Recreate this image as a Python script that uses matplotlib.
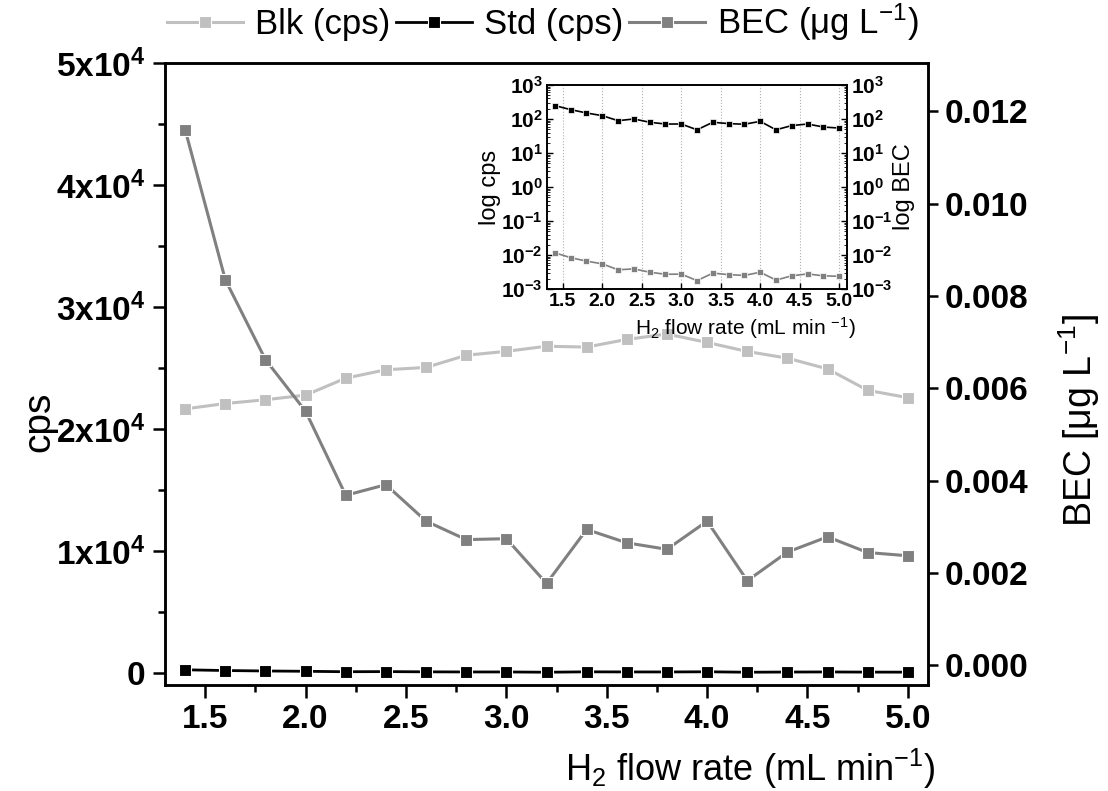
import numpy as np
import matplotlib
matplotlib.use("Agg")
import matplotlib.pyplot as plt
from matplotlib.ticker import FixedLocator, FixedFormatter, MultipleLocator, LogLocator, NullFormatter

plt.rcParams['font.family'] = 'Liberation Sans'
plt.rcParams['mathtext.fontset'] = 'custom'
plt.rcParams['mathtext.rm'] = 'Liberation Sans'
plt.rcParams['mathtext.bf'] = 'Liberation Sans:bold'
plt.rcParams['mathtext.it'] = 'Liberation Sans:italic'
plt.rcParams['mathtext.default'] = 'regular'

# data
flow = [1.4, 1.6, 1.8, 2.0, 2.2, 2.4, 2.6, 2.8, 3.0, 3.2,
        3.4, 3.6, 3.8, 4.0, 4.2, 4.4, 4.6, 4.8, 5.0]
blk = [21650, 22090, 22400, 22780, 24170, 24860, 25050, 26050, 26370, 26790,
       26720, 27350, 27790, 27100, 26360, 25810, 24930, 23170, 22570]
std = [247, 188, 150, 125, 89, 100, 80, 71, 71, 48,
       80, 73, 70, 85, 48, 64, 71, 58, 54]
bec = [0.01160, 0.00835, 0.00662, 0.00550, 0.00368, 0.00391, 0.00312, 0.00272, 0.00274, 0.00177,
       0.00294, 0.00265, 0.00251, 0.00312, 0.00183, 0.00245, 0.00278, 0.00244, 0.00237]

cps_ticks = [0, 10000, 20000, 30000, 40000, 50000]
cps_labels = ['0', r'$\mathbf{1x10^{4}}$', r'$\mathbf{2x10^{4}}$', r'$\mathbf{3x10^{4}}$',
              r'$\mathbf{4x10^{4}}$', r'$\mathbf{5x10^{4}}$']
bec_ticks = [0.0, 0.002, 0.004, 0.006, 0.008, 0.010, 0.012]
bec_labels = ['0.000', '0.002', '0.004', '0.006', '0.008', '0.010', '0.012']
x_ticks = [1.5, 2.0, 2.5, 3.0, 3.5, 4.0, 4.5, 5.0]
log_ticks = [1e-3, 1e-2, 1e-1, 1e0, 1e1, 1e2, 1e3]
log_labels = [r'$\mathbf{10^{-3}}$', r'$\mathbf{10^{-2}}$', r'$\mathbf{10^{-1}}$', r'$\mathbf{10^{0}}$',
              r'$\mathbf{10^{1}}$', r'$\mathbf{10^{2}}$', r'$\mathbf{10^{3}}$']

c_blk = '#c0c0c0'
c_std = '#000000'
c_bec = '#808080'

fig = plt.figure(figsize=(11.08, 7.91), dpi=100)
ax = fig.add_axes([0.149, 0.134, 0.6885, 0.786])
ax2 = ax.twinx()

l1, = ax.plot(flow, blk, '-s', color=c_blk, lw=2.2, ms=9, mec='white', mew=0.8, label='Blk (cps)')
l2, = ax.plot(flow, std, '-s', color=c_std, lw=2.0, ms=9, mec='white', mew=0.8, label='Std (cps)')
l3, = ax2.plot(flow, bec, '-s', color=c_bec, lw=2.2, ms=9, mec='white', mew=0.8, label=r'BEC ($\mu$g L$^{-1}$)')

ax.set_xlim(1.3, 5.1)
ax.set_ylim(-1000, 50000)
ax2.set_ylim(-0.00043, 0.01304)

ax.xaxis.set_major_locator(FixedLocator(x_ticks))
ax.xaxis.set_minor_locator(MultipleLocator(0.25))
ax.yaxis.set_major_locator(FixedLocator(cps_ticks))
ax.yaxis.set_major_formatter(FixedFormatter(cps_labels))
ax.yaxis.set_minor_locator(MultipleLocator(5000))
ax2.yaxis.set_major_locator(FixedLocator(bec_ticks))
ax2.yaxis.set_major_formatter(FixedFormatter(bec_labels))

for a in (ax, ax2):
    for s in a.spines.values():
        s.set_linewidth(1.8)
ax.tick_params(which='major', direction='out', length=9, width=1.8, labelsize=24, pad=5)
ax.tick_params(which='minor', direction='out', length=5, width=1.8)
ax2.tick_params(which='major', direction='out', length=7, width=1.8, labelsize=24, pad=5)
for lab in ax.get_xticklabels() + ax.get_yticklabels() + ax2.get_yticklabels():
    lab.set_fontweight('bold')

ax.set_ylabel('cps', fontsize=28)
ax.yaxis.set_label_coords(-0.141, 0.424)
ax2.set_ylabel(r'BEC [$\mu$g L$^{-1}$]', fontsize=27)
ax2.yaxis.set_label_coords(1.168, 0.426)
ax.set_xlabel(r'H$_2$ flow rate (mL min$^{-1}$)', fontsize=26)
ax.xaxis.set_label_coords(0.767, -0.1)

fig.legend([l1, l2, l3], [l1.get_label(), l2.get_label(), l3.get_label()],
           loc='center', bbox_to_anchor=(0.49, 0.972), ncol=3, frameon=False,
           fontsize=25, handlelength=2.2, handletextpad=0.35, columnspacing=0.15)

# inset with log scales
axin = fig.add_axes([0.4937, 0.6346, 0.2708, 0.258])
axin.set_yscale('log')
axin.plot(flow, std, '-s', color=c_std, lw=1.2, ms=5, mec='white', mew=0.5)
axin.set_xlim(1.3, 5.1)
axin.set_ylim(1e-3, 1e3)
axin2 = axin.twinx()
axin2.set_yscale('log')
axin2.plot(flow, bec, '-s', color=c_bec, lw=1.2, ms=5, mec='white', mew=0.5)
axin2.set_ylim(1e-3, 1e3)

axin.xaxis.set_major_locator(FixedLocator(x_ticks))
axin.xaxis.grid(True, ls=':', color='#b0b0b0', lw=0.8)
for a in (axin, axin2):
    a.yaxis.set_major_locator(FixedLocator(log_ticks))
    a.yaxis.set_major_formatter(FixedFormatter(log_labels))
    a.yaxis.set_minor_locator(LogLocator(base=10, subs=np.arange(2, 10), numticks=20))
    a.yaxis.set_minor_formatter(NullFormatter())
    a.tick_params(which='major', direction='in', length=4, width=1, labelsize=15, pad=3)
    a.tick_params(which='minor', direction='in', length=2, width=0.6)
    for s in a.spines.values():
        s.set_linewidth(1.2)
axin.tick_params(axis='x', labelsize=14)
for lab in axin.get_xticklabels():
    lab.set_fontweight('bold')
axin.set_ylabel('log cps', fontsize=17, labelpad=0)
axin2.set_ylabel('log BEC', fontsize=17, labelpad=0)
axin.set_xlabel(r'H$_2$ flow rate (mL min $^{-1}$)', fontsize=15, labelpad=0)
axin.xaxis.set_label_coords(0.66, -0.13)

fig.savefig('out.png', dpi=100)
